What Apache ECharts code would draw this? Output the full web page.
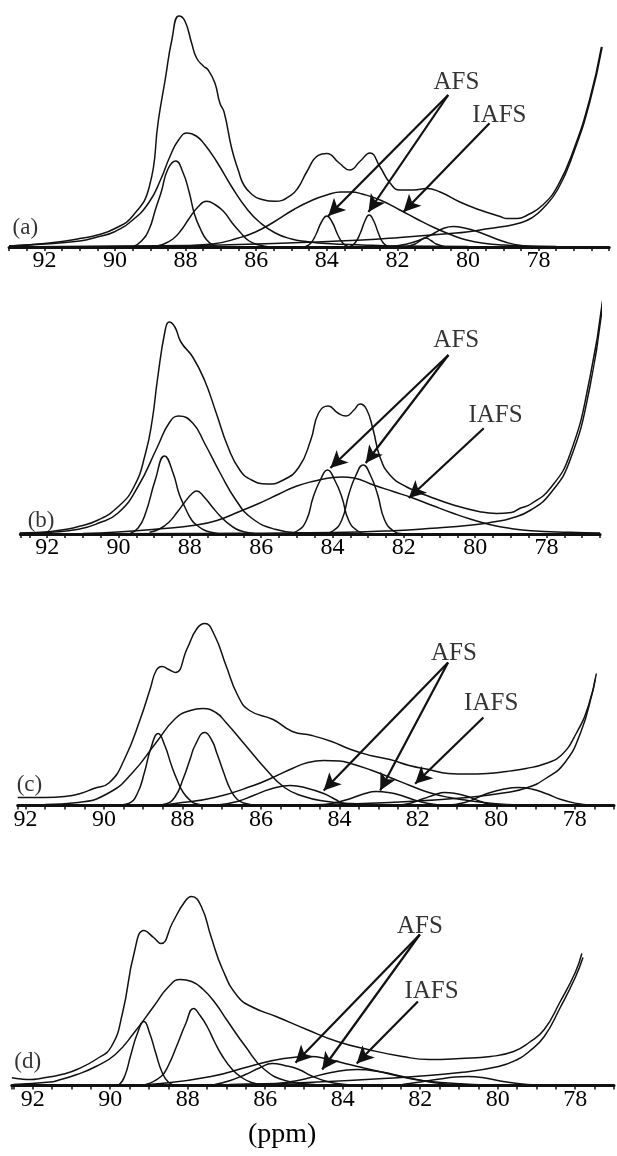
<!DOCTYPE html>
<html><head><meta charset="utf-8">
<script src="https://cdn.jsdelivr.net/npm/echarts@6/dist/echarts.min.js"></script>
<style>html,body{margin:0;padding:0;background:#fff}#chart{width:617px;height:1156px}</style>
</head><body><div id="chart"></div>
<script>
// ---------- tick labels & texts ----------
const tickLabels = [92, 90, 88, 86, 84, 82, 80, 78];
const panelLabels = ['(a)', '(b)', '(c)', '(d)'];
const noteTexts = ['AFS', 'IAFS'];
const axisTitle = '(ppm)';

// ---------- panel (a): [ppm, intensity] ----------
const a_envelope = [[93.0,1],[92.5,2],[92.0,3.5],[91.5,5.5],[91.0,8.5],[90.5,12],[90.0,18.5],[89.5,31],[89.03,60],[88.77,127],[88.58,167],[88.39,207],[88.19,231],[88.02,226],[87.83,204],[87.69,189],[87.5,181],[87.36,177],[87.17,164],[87.03,144],[86.91,135],[86.69,98],[86.5,76],[86.35,62],[86.1,52],[85.91,48.3],[85.46,45.7],[85.02,51.7],[84.8,60],[84.57,75],[84.24,91.7],[84.0,93.5],[83.65,84],[83.35,77],[83.05,86],[82.78,94],[82.49,80],[82.21,64],[81.93,57],[81.54,57],[81.17,58.5],[80.79,55],[80.23,45],[79.66,37],[79.09,30.5],[78.89,28.5],[78.6,28.5],[78.34,31.5],[77.89,41.7],[77.45,61.7],[77.0,98],[76.55,148],[76.22,200]];
const a_broad = [[93,1],[92,3],[91,6],[90.5,10],[90.03,15],[89.5,27],[89.03,45],[88.7,68],[88.45,90],[88.2,107],[87.95,114],[87.7,111],[87.47,103],[87.13,86],[86.69,60],[86.24,37],[85.91,25],[85.46,14],[85.0,8],[84.57,5.5],[84.0,3.5],[83.0,2],[82.0,1],[80.0,0.5]];
const a_narrow = [[89.5,0],[89.25,6],[89.03,18],[88.85,38],[88.69,55],[88.5,78],[88.28,86],[88.08,75],[87.9,55],[87.75,33],[87.58,18],[87.4,7],[87.2,1.5],[87.0,0]];
const a_p874 = [[89.0,0],[88.7,2],[88.36,8],[88.1,18],[87.91,28],[87.65,40],[87.41,45.7],[87.15,42],[86.91,35],[86.7,25],[86.46,15],[86.2,6],[85.91,2],[85.6,0]];
const a_iafs = [[88.5,0.5],[87.24,3],[86.5,9],[86.02,15],[85.5,25],[84.91,38],[84.4,47],[84.0,52],[83.6,55],[83.3,55],[83.0,53],[82.49,47],[81.93,37],[81.45,28],[80.98,19.7],[80.5,12.5],[80.04,7],[79.5,3.5],[79.0,2],[78.3,1],[77.5,0.5]];
const a_afs1 = [[84.6,0.5],[84.45,4],[84.3,13],[84.15,25],[84.0,31],[83.85,25],[83.7,13],[83.55,4],[83.4,0.5]];
const a_afs2 = [[83.35,0.5],[83.2,4],[83.05,14],[82.92,26],[82.8,32],[82.67,26],[82.54,14],[82.4,4],[82.25,0.5]];
const a_p804 = [[82.2,0.5],[81.8,2.5],[81.4,6.5],[81.0,13],[80.7,18.5],[80.42,20.5],[80.1,19],[79.7,15],[79.3,9.5],[78.9,4.5],[78.5,1.5],[78.0,0.3]];
const a_p812 = [[81.75,0.3],[81.5,3],[81.35,6.5],[81.2,9],[81.05,6.5],[80.9,3],[80.65,0.3]];
const a_tail = [[93,0],[90,1],[87,2],[84.75,4.5],[83,7],[81.93,9.5],[80.5,13.5],[80.04,15],[79.5,18],[79.0,20.5],[78.53,24],[78.2,29],[77.89,38],[77.45,58],[77.0,95],[76.55,145],[76.2,200]];

// ---------- panel (b) ----------
const b_envelope = [[92.77,1],[92.3,1.5],[91.89,2.5],[91.5,4.5],[91.12,7.5],[90.57,14],[90.02,27],[89.57,47],[89.24,81],[89.05,115],[88.91,154],[88.69,204],[88.58,212],[88.42,207],[88.25,192],[87.92,177],[87.59,154],[87.26,121],[86.93,87],[86.6,64],[86.27,54],[85.83,50],[85.38,54],[84.94,67],[84.61,94],[84.39,121],[84.12,128],[83.85,121],[83.62,118],[83.4,124],[83.23,130],[83.05,125],[82.86,104],[82.67,77],[82.39,59],[81.92,47],[81.27,37.3],[80.61,29],[79.87,22.3],[79.4,20.5],[78.99,21.5],[78.74,25.7],[78.44,30],[77.89,46],[77.34,80],[76.78,157],[76.4,242]];
const b_broad = [[92.77,0.5],[91.89,1.7],[91.12,4.7],[90.57,10.7],[90.02,20.7],[89.46,47],[88.91,87],[88.58,111],[88.31,118],[87.92,111],[87.59,91],[87.15,61],[86.71,34],[86.27,16],[85.61,4.7],[84.94,1.3],[84.0,0.5]];
const b_narrow = [[89.7,0],[89.45,6],[89.24,21],[88.97,54],[88.71,78],[88.47,61],[88.3,40],[88.14,27],[87.95,14],[87.81,9],[87.6,4],[87.37,1.5],[87.1,0]];
const b_p878 = [[89.13,1.7],[88.85,5],[88.58,12],[88.35,22],[88.14,32],[87.95,40],[87.81,43],[87.6,37],[87.37,27],[87.15,18],[86.93,10.7],[86.7,5],[86.49,2.3],[86.2,0.5]];
const b_iafs = [[91.0,0.5],[90.02,2],[88.9,5],[87.81,9],[87.2,14],[86.71,21],[86.1,30],[85.5,40],[85.0,48],[84.5,53],[84.0,56.5],[83.73,57],[83.4,56],[82.85,49],[82.3,42.5],[81.75,36],[81.2,28.5],[80.64,21],[80.1,14.5],[79.54,9],[79.0,5.5],[78.44,3.3],[77.34,1.7],[76.5,1]];
const b_afs1 = [[85.25,0.3],[84.99,3],[84.74,13],[84.54,37],[84.34,54],[84.14,64],[83.94,54],[83.74,37],[83.54,13],[83.29,3],[83.04,0.3]];
const b_afs2 = [[84.25,0.3],[83.99,3],[83.74,14],[83.54,40],[83.34,59],[83.14,69],[82.94,59],[82.74,40],[82.54,14],[82.29,3],[82.04,0.3]];
const b_tail = [[92.5,0],[88.0,0.5],[84.0,1.5],[82.3,3.3],[81.2,5.7],[80.09,9],[79.5,12],[78.99,15.7],[78.44,24],[77.89,40.7],[77.34,74],[76.78,148],[76.42,234]];

// ---------- panel (c) ----------
const c_envelope = [[92.2,8],[91.5,8],[91.0,9],[90.6,12],[90.26,17],[89.86,23],[89.47,47],[89.07,87],[88.82,117],[88.67,135],[88.52,139],[88.35,136],[88.18,133],[87.88,157],[87.63,177],[87.43,182],[87.18,170],[86.89,140],[86.59,110],[86.29,95],[85.69,86],[85.2,74],[84.7,70],[84.2,64],[83.71,56],[83.21,50],[82.71,46],[82.22,40],[81.72,36],[81.23,32],[80.73,31.5],[80.23,32],[79.74,34],[79.24,37],[78.74,42],[78.35,50],[77.95,73],[77.65,100],[77.45,132]];
const c_broad = [[91.5,1],[90.66,3],[89.86,13],[89.27,33],[88.67,63],[88.18,87],[87.8,95],[87.48,97],[87.15,93],[86.89,83],[86.39,60],[85.89,37],[85.4,18],[84.9,9],[84.4,4.5],[83.71,2],[82.5,0.5]];
const c_narrow1 = [[89.6,0.5],[89.37,2],[89.15,12],[88.97,33],[88.8,58],[88.62,72],[88.45,60],[88.28,40],[88.12,24],[87.98,13],[87.8,5],[87.68,2],[87.4,0.3]];
const c_narrow2 = [[88.6,0.3],[88.47,1],[88.2,8],[87.98,27],[87.8,47],[87.68,60],[87.43,73],[87.25,65],[87.13,53],[86.95,33],[86.79,17],[86.6,6],[86.39,2],[86.1,0.3]];
const c_iafs = [[88.5,1],[88.18,2],[87.18,8],[86.19,20],[85.7,28],[85.2,37],[84.8,43],[84.4,45],[84.0,44.5],[83.71,42],[83.2,35.5],[82.71,28],[82.2,20],[81.72,13],[81.2,8],[80.73,5],[80.2,2.5],[79.74,1],[79.0,0.3]];
const c_afs1 = [[87.1,0.5],[86.6,4],[86.19,10],[85.75,16.5],[85.25,20],[84.8,17],[84.4,12],[84.1,6],[83.9,2],[83.6,0.3]];
const c_afs2 = [[84.5,0.3],[84.2,2],[83.71,7],[83.35,12],[83.06,14],[82.75,13],[82.42,10],[82.05,5],[81.72,2],[81.4,0.3]];
const c_p813 = [[82.5,0.3],[82.22,2],[81.85,7],[81.55,11],[81.33,13],[81.05,12],[80.73,9],[80.4,4],[80.13,1],[79.8,0.2]];
const c_p794 = [[81.3,0.3],[80.8,3],[80.23,12],[79.8,16.5],[79.44,18],[79.1,16.5],[78.74,12],[78.35,6],[77.95,2],[77.6,0.3]];
const c_tail = [[86.0,0],[84.7,0.7],[82.71,3],[80.73,8],[79.74,13],[79.2,18],[78.74,27],[78.25,43],[77.85,73],[77.55,113],[77.48,126]];

// ---------- panel (d) ----------
const d_envelope = [[92.54,7.7],[92.3,6.5],[92.05,6],[91.8,7],[91.55,8.7],[91.2,11.5],[90.86,16],[90.37,26],[89.97,39],[89.68,73],[89.38,133],[89.13,155],[88.88,148],[88.69,142],[88.39,163],[88.09,183],[87.9,189],[87.65,179],[87.4,149],[87.1,116],[86.71,89],[86.31,78],[85.72,69],[84.93,56],[84.14,44],[83.35,36],[82.46,29],[81.76,26],[80.97,27],[80.18,29],[79.59,34],[79.19,43],[78.8,56],[78.4,83],[78.0,113],[77.83,132]];
const d_broad = [[92.5,1],[91.55,3.5],[91.36,5],[90.86,11],[90.37,19],[89.87,31],[89.38,53],[88.88,79],[88.49,99],[88.19,106],[87.9,104],[87.6,96],[87.3,83],[87.0,66],[86.51,39],[86.02,16],[85.42,4.3],[84.9,1.5],[84.43,0.3]];
const d_narrow = [[89.85,0.3],[89.77,1],[89.62,10],[89.48,29],[89.3,52],[89.13,64],[88.98,52],[88.83,33],[88.66,13],[88.49,3],[88.3,0.3]];
const d_p785 = [[89.08,1],[88.69,9],[88.5,20],[88.29,39],[88.05,62],[87.85,77],[87.68,70],[87.5,59],[87.3,43],[87.1,29],[86.85,16],[86.61,8],[86.35,3],[86.11,1]];
const d_iafs = [[89.5,0.5],[88.69,2],[87.4,9],[86.41,19],[85.52,27],[84.83,29],[84.4,26.5],[83.94,22],[83.45,17.5],[82.95,13],[82.46,8.5],[81.96,5],[81.47,3],[80.97,1.7],[80.3,0.5]];
const d_afs1 = [[87.3,1],[86.9,5],[86.51,11],[86.15,17.5],[85.82,22],[85.5,20],[85.13,16],[84.8,9.5],[84.43,4.3],[83.94,1],[83.6,0.2]];
const d_afs2 = [[85.92,1],[85.4,3.5],[84.93,7],[84.3,13],[83.64,16],[83.0,13.5],[82.46,9],[81.96,5],[81.47,2],[81.0,0.5]];
const d_p807 = [[82.46,1],[82.0,3.5],[81.5,6.5],[81.1,8.5],[80.77,9],[80.4,8],[80.0,5],[79.49,2],[79.0,0.5]];
const d_tail = [[87.0,0.5],[86.91,1],[84.93,3],[82.95,7],[80.97,13],[79.98,19],[79.49,26],[79.19,34],[78.8,49],[78.4,77],[78.0,108],[77.8,128]];

// ---------- layout (positions/sizes, not data) ----------
const layout = [
  {min: 76,   max: 93,    left: 9.1,  ppx: 35.3,  base: 247,    h: 240},
  {min: 76.5, max: 92.75, left: 20.4, ppx: 35.67, base: 534,    h: 250},
  {min: 77,   max: 92.2,  left: 17.7, ppx: 39.6,  base: 805.5,  h: 200},
  {min: 77,   max: 92.54, left: 11.8, ppx: 39.75, base: 1085.5, h: 200}
];
const notes = [
  {label: [92.54, 19], afs: [80.33, 165], iafs: [79.11, 132],
   arrows: [[[80.56,152],[83.96,31]], [[80.56,152],[82.82,35]], [[79.39,123.7],[81.83,35]]]},
  {label: [92.17, 13.3], afs: [80.53, 194], iafs: [79.43, 119],
   arrows: [[[80.75,179],[84.06,66]], [[80.75,179],[83.07,71]], [[79.76,105.7],[81.86,36]]]},
  {label: [91.9, 20.7], afs: [81.08, 151.7], iafs: [80.13, 101.7],
   arrows: [[[81.23,143],[84.4,15]], [[81.23,143],[82.96,15]], [[80.33,88],[82.07,21.7]]]},
  {label: [92.13, 23.3], afs: [82.01, 158.7], iafs: [81.71, 94.3],
   arrows: [[[82.01,151],[85.22,22.7]], [[82.01,151],[84.53,16]], [[82.06,84],[83.64,22]]]}
];

const panelCurves = [
  [a_envelope, a_broad, a_narrow, a_p874, a_iafs, a_afs1, a_afs2, a_p804, a_p812, a_tail],
  [b_envelope, b_broad, b_narrow, b_p878, b_iafs, b_afs1, b_afs2, b_tail],
  [c_envelope, c_broad, c_narrow1, c_narrow2, c_iafs, c_afs1, c_afs2, c_p813, c_p794, c_tail],
  [d_envelope, d_broad, d_narrow, d_p785, d_iafs, d_afs1, d_afs2, d_p807, d_tail]
];

const INK = '#111';
const FONT = '"Liberation Serif", "Times New Roman", serif';

const grids = [], xAxes = [], yAxes = [], series = [];
layout.forEach((L, i) => {
  grids.push({left: L.left, top: L.base - L.h, width: (L.max - L.min) * L.ppx, height: L.h, containLabel: false});
  xAxes.push({
    type: 'value', gridIndex: i, inverse: true, min: L.min, max: L.max, interval: 0.5,
    axisLine: {show: true, onZero: false, lineStyle: {color: INK, width: 3}},
    axisTick: {show: true, length: 4, lineStyle: {color: INK, width: 1.5}},
    minorTick: {show: false},
    splitLine: {show: false},
    axisLabel: {
      show: true, margin: 2, color: '#000', fontFamily: FONT, fontSize: 24,
      showMinLabel: true, showMaxLabel: true,
      formatter: v => tickLabels.indexOf(Math.round(v * 100) / 100) >= 0 ? String(Math.round(v)) : ''
    }
  });
  yAxes.push({type: 'value', gridIndex: i, min: 0, max: L.h, show: false});

  panelCurves[i].forEach((curve, k) => {
    const s = {
      type: 'line', xAxisIndex: i, yAxisIndex: i, data: curve,
      showSymbol: false, symbol: 'none', smooth: 0.5, silent: true,
      lineStyle: {color: INK, width: 1.5}, z: 3
    };
    if (k === 0) {
      const N = notes[i];
      s.markLine = {
        silent: true, animation: false, symbol: ['none', 'arrow'], symbolSize: 15,
        label: {show: false},
        lineStyle: {color: INK, width: 2.2, type: 'solid'},
        emphasis: {disabled: true},
        data: N.arrows.map(a => [
          {coord: a[0], symbol: 'none'},
          {coord: a[1], symbol: 'arrow', symbolSize: [13, 17]}
        ])
      };
    }
    series.push(s);
  });

  const N = notes[i];
  series.push({
    type: 'scatter', xAxisIndex: i, yAxisIndex: i, silent: true, symbolSize: 1,
    itemStyle: {color: 'transparent'}, z: 5,
    label: {show: true, position: 'inside', formatter: '{b}', color: '#000',
            textBorderWidth: 0, textBorderColor: 'transparent',
            fontFamily: FONT, fontSize: 25},
    data: [
      {name: panelLabels[i], value: N.label, label: {fontSize: 23}},
      {name: noteTexts[0], value: N.afs},
      {name: noteTexts[1], value: N.iafs}
    ]
  });
});

const chart = echarts.init(document.getElementById('chart'), null, {renderer: 'canvas'});
chart.setOption({
  backgroundColor: '#fff',
  animation: false,
  grid: grids, xAxis: xAxes, yAxis: yAxes, series,
  graphic: [{
    type: 'text', left: 248, top: 1121,
    style: {text: axisTitle, font: '28px ' + FONT, fill: '#000'}
  }]
});
</script>
</body></html>
